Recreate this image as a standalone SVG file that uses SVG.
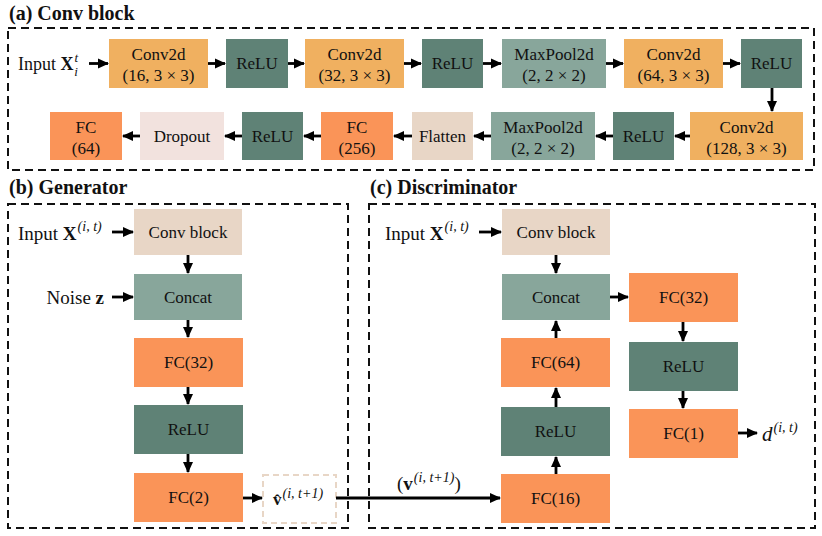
<svg xmlns="http://www.w3.org/2000/svg" width="822" height="536" viewBox="0 0 822 536">
<style>
text{font-family:"Liberation Serif","DejaVu Serif",serif;fill:#111;}
.t{font-size:17px;text-anchor:middle;}
.lbl{font-size:19px;}
.title{font-size:20px;font-weight:bold;font-family:"Liberation Serif","DejaVu Serif",serif;}
.frame{fill:none;stroke:#111;stroke-width:2;stroke-dasharray:8 5;}
.conv{fill:#F0B060;}
.relu{fill:#5F8276;}
.pool{fill:#88A69B;}
.fc{fill:#FA9458;}
.drop{fill:#F2E2DE;}
.beige{fill:#E8D6C6;}
.ar{stroke:#000;stroke-width:2.8;fill:none;marker-end:url(#ah);}
.b{font-weight:bold;font-style:normal;}
.i{font-style:italic;}
</style>
<defs>
<marker id="ah" markerUnits="userSpaceOnUse" markerWidth="11" markerHeight="11" refX="10" refY="5.5" orient="auto">
<path d="M0,0.5 L11,5.5 L0,10.5 z" fill="#000"/>
</marker>
</defs>
<rect width="822" height="536" fill="#fff"/>

<text class="title" x="9" y="20">(a) Conv block</text>
<rect class="frame" x="8" y="28" width="806" height="142"/>
<text class="title" x="9" y="194">(b) Generator</text>
<rect class="frame" x="8" y="204" width="340" height="324"/>
<text class="title" x="370" y="194">(c) Discriminator</text>
<rect class="frame" x="369" y="204" width="446" height="324"/>

<!-- Conv block row 1 -->
<g id="in_a"><text style="font-size:18px" x="18" y="70">Input <tspan class="b">X</tspan><tspan class="i" style="font-size:13px" dx="1" dy="-8">t</tspan><tspan class="i" style="font-size:13px" dx="-4" dy="14">i</tspan></text></g>
<g id="conv1"><rect class="conv" x="109" y="39" width="99" height="49"/><text class="t" x="158.5" y="60">Conv2d</text><text class="t" x="158.5" y="81">(16, 3 × 3)</text></g>
<g id="relu1"><rect class="relu" x="226" y="39" width="62" height="49"/><text class="t" x="257" y="69">ReLU</text></g>
<g id="conv2"><rect class="conv" x="305" y="39" width="99" height="49"/><text class="t" x="354.5" y="60">Conv2d</text><text class="t" x="354.5" y="81">(32, 3 × 3)</text></g>
<g id="relu2"><rect class="relu" x="422" y="39" width="61" height="49"/><text class="t" x="452.5" y="69">ReLU</text></g>
<g id="pool1"><rect class="pool" x="502" y="39" width="104" height="49"/><text class="t" x="554" y="60">MaxPool2d</text><text class="t" x="554" y="81">(2, 2 × 2)</text></g>
<g id="conv3"><rect class="conv" x="624" y="39" width="99" height="49"/><text class="t" x="673.5" y="60">Conv2d</text><text class="t" x="673.5" y="81">(64, 3 × 3)</text></g>
<g id="relu3"><rect class="relu" x="741" y="39" width="61" height="49"/><text class="t" x="771.5" y="69">ReLU</text></g>
<!-- row 2 -->
<g id="conv4"><rect class="conv" x="690" y="112" width="113" height="48"/><text class="t" x="746.5" y="133">Conv2d</text><text class="t" x="746.5" y="154">(128, 3 × 3)</text></g>
<g id="relu4"><rect class="relu" x="613" y="112" width="61" height="48"/><text class="t" x="643.5" y="142">ReLU</text></g>
<g id="pool2"><rect class="pool" x="491" y="112" width="104" height="48"/><text class="t" x="543" y="133">MaxPool2d</text><text class="t" x="543" y="154">(2, 2 × 2)</text></g>
<g id="flatten"><rect class="beige" x="412" y="112" width="61" height="48"/><text class="t" x="442.5" y="142">Flatten</text></g>
<g id="fc256"><rect class="fc" x="321" y="112" width="72" height="48"/><text class="t" x="357" y="133">FC</text><text class="t" x="357" y="154">(256)</text></g>
<g id="relu5"><rect class="relu" x="242" y="112" width="61" height="48"/><text class="t" x="272.5" y="142">ReLU</text></g>
<g id="dropout"><rect class="drop" x="140" y="112" width="84" height="48"/><text class="t" x="182" y="142">Dropout</text></g>
<g id="fc64a"><rect class="fc" x="50" y="112" width="72" height="48"/><text class="t" x="86" y="133">FC</text><text class="t" x="86" y="154">(64)</text></g>

<!-- Generator -->
<g id="g_in"><text class="lbl" x="18" y="240">Input <tspan class="b">X</tspan><tspan class="i" style="font-size:14px" dx="1" dy="-9">(i, t)</tspan></text></g>
<g id="g_noise"><text class="lbl" x="104" y="304" text-anchor="end">Noise <tspan class="b">z</tspan></text></g>
<g id="g_conv"><rect class="beige" x="134" y="209" width="108" height="46"/><text class="t" x="188" y="238">Conv block</text></g>
<g id="g_concat"><rect class="pool" x="134" y="274" width="108" height="46"/><text class="t" x="188" y="303">Concat</text></g>
<g id="g_fc32"><rect class="fc" x="134" y="338" width="109" height="49"/><text class="t" x="188.5" y="368">FC(32)</text></g>
<g id="g_relu"><rect class="relu" x="134" y="405" width="109" height="49"/><text class="t" x="188.5" y="435">ReLU</text></g>
<g id="g_fc2"><rect class="fc" x="134" y="473" width="109" height="49"/><text class="t" x="188.5" y="503">FC(2)</text></g>
<g id="vhat"><rect x="263" y="475" width="73" height="48" fill="none" stroke="#E8D6C6" stroke-width="2" stroke-dasharray="6 4"/><text style="font-size:17px" x="273" y="505"><tspan class="b">v̂</tspan><tspan class="i" style="font-size:14px" dx="1" dy="-7">(i, t+1)</tspan></text></g>

<!-- Discriminator -->
<g id="d_in"><text class="lbl" x="385" y="240">Input <tspan class="b">X</tspan><tspan class="i" style="font-size:14px" dx="1" dy="-9">(i, t)</tspan></text></g>
<g id="d_conv"><rect class="beige" x="502" y="209" width="108" height="46"/><text class="t" x="556" y="238">Conv block</text></g>
<g id="d_concat"><rect class="pool" x="502" y="274" width="108" height="46"/><text class="t" x="556" y="303">Concat</text></g>
<g id="d_fc64"><rect class="fc" x="501" y="338" width="109" height="49"/><text class="t" x="555.5" y="368">FC(64)</text></g>
<g id="d_relu"><rect class="relu" x="501" y="407" width="109" height="49"/><text class="t" x="555.5" y="437">ReLU</text></g>
<g id="d_fc16"><rect class="fc" x="501" y="474" width="109" height="49"/><text class="t" x="555.5" y="504">FC(16)</text></g>
<g id="d_fc32"><rect class="fc" x="629" y="273" width="109" height="49"/><text class="t" x="683.5" y="303">FC(32)</text></g>
<g id="d_relu2"><rect class="relu" x="629" y="342" width="109" height="49"/><text class="t" x="683.5" y="372">ReLU</text></g>
<g id="d_fc1"><rect class="fc" x="629" y="409" width="109" height="49"/><text class="t" x="683.5" y="439">FC(1)</text></g>
<g id="d_out"><text class="lbl" x="762" y="441"><tspan class="i" style="font-size:21px">d</tspan><tspan class="i" style="font-size:14px" dx="1" dy="-9">(i, t)</tspan></text></g>
<g id="v_lbl"><text class="lbl" x="397" y="490">(<tspan class="b">v</tspan><tspan class="i" style="font-size:14px" dx="1" dy="-8">(i, t+1)</tspan><tspan dy="8">)</tspan></text></g>

<g id="connectors">
<line class="ar" x1="89" y1="63.5" x2="108" y2="63.5"/>
<line class="ar" x1="208" y1="63.5" x2="225" y2="63.5"/>
<line class="ar" x1="288" y1="63.5" x2="304" y2="63.5"/>
<line class="ar" x1="404" y1="63.5" x2="421" y2="63.5"/>
<line class="ar" x1="483" y1="63.5" x2="501" y2="63.5"/>
<line class="ar" x1="606" y1="63.5" x2="623" y2="63.5"/>
<line class="ar" x1="723" y1="63.5" x2="740" y2="63.5"/>
<line class="ar" x1="772" y1="88" x2="772" y2="111"/>
<line class="ar" x1="690" y1="136" x2="675" y2="136"/>
<line class="ar" x1="613" y1="136" x2="596" y2="136"/>
<line class="ar" x1="491" y1="136" x2="474" y2="136"/>
<line class="ar" x1="412" y1="136" x2="394" y2="136"/>
<line class="ar" x1="321" y1="136" x2="304" y2="136"/>
<line class="ar" x1="242" y1="136" x2="225" y2="136"/>
<line class="ar" x1="140" y1="136" x2="123" y2="136"/>

<line class="ar" x1="112" y1="232" x2="133" y2="232"/>
<line class="ar" x1="112" y1="297" x2="133" y2="297"/>
<line class="ar" x1="188" y1="255" x2="188" y2="273"/>
<line class="ar" x1="188" y1="320" x2="188" y2="337"/>
<line class="ar" x1="188" y1="387" x2="188" y2="404"/>
<line class="ar" x1="188" y1="454" x2="188" y2="472"/>
<line class="ar" x1="243" y1="498" x2="262" y2="498"/>
<line class="ar" x1="336" y1="498" x2="500" y2="498"/>

<line class="ar" x1="479" y1="232" x2="501" y2="232"/>
<line class="ar" x1="556" y1="255" x2="556" y2="273"/>
<line class="ar" x1="556" y1="474" x2="556" y2="457"/>
<line class="ar" x1="556" y1="407" x2="556" y2="388"/>
<line class="ar" x1="556" y1="338" x2="556" y2="321"/>
<line class="ar" x1="610" y1="297" x2="628" y2="297"/>
<line class="ar" x1="683" y1="322" x2="683" y2="341"/>
<line class="ar" x1="683" y1="391" x2="683" y2="408"/>
<line class="ar" x1="738" y1="433" x2="757" y2="433"/>
</g>
</svg>
